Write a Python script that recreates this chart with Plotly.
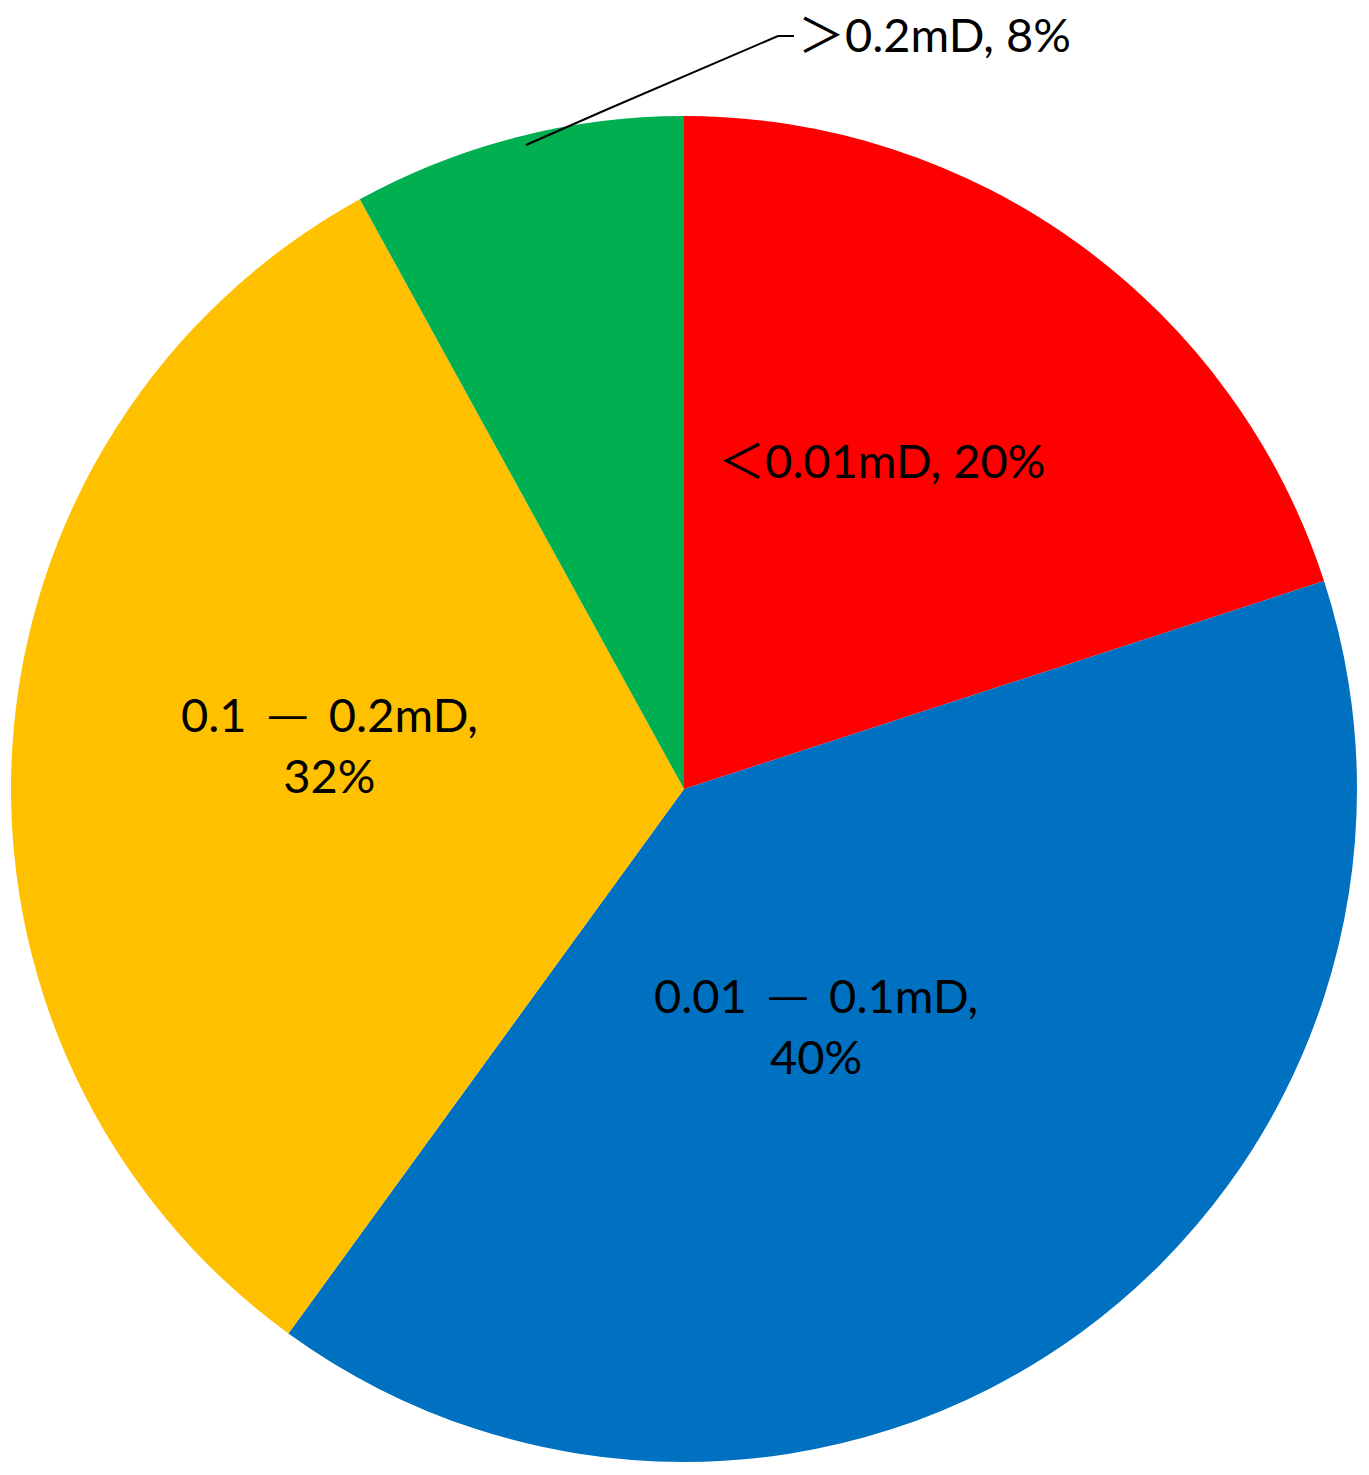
import plotly.graph_objects as go

categories = ["＜0.01mD", "0.01\u2002─\u20020.1mD", "0.1\u2002─\u20020.2mD", "＞0.2mD"]
values = [20, 40, 32, 8]
colors = ["#FF0000", "#0070C0", "#FFC000", "#00B050"]

W, H = 1369, 1475
cx, cy, r = 676, 781, 673

fig = go.Figure(go.Pie(
    labels=categories, values=values, sort=False, direction="clockwise", rotation=0,
    marker=dict(colors=colors, line=dict(width=0)),
    textinfo="none", hoverinfo="label+percent", showlegend=False,
    domain=dict(x=[(cx - r) / W, (cx + r) / W], y=[(H - cy - r) / H, (H - cy + r) / H]),
))

font = dict(family="Lato, 'Noto Sans CJK SC', sans-serif", size=47, color="black")

# label positions (pixels) and line break choice
label_pos = [(873, 452, False, "center"), (808, 1017, True, "center"),
             (321, 736, True, "center"), (788, 26, False, "left")]
for cat, val, (px, py, brk, anc) in zip(categories, values, label_pos):
    txt = f"{cat},<br>{val}%" if brk else f"{cat}, {val}%"
    fig.add_annotation(x=px / W, y=1 - py / H, xref="paper", yref="paper", text=txt,
                       showarrow=False, font=font, xanchor=anc, yanchor="middle")

# leader line for the small slice
pts = [(518, 137), (600, 101), (770, 28), (786, 28)]
path = "M " + " L ".join(f"{x / W},{1 - y / H}" for x, y in pts)
fig.add_shape(type="path", path=path, xref="paper", yref="paper", line=dict(color="black", width=2))

fig.update_layout(width=W, height=H, margin=dict(l=0, r=0, t=0, b=0),
                  paper_bgcolor="white", plot_bgcolor="white")
fig.write_html("out.html")
